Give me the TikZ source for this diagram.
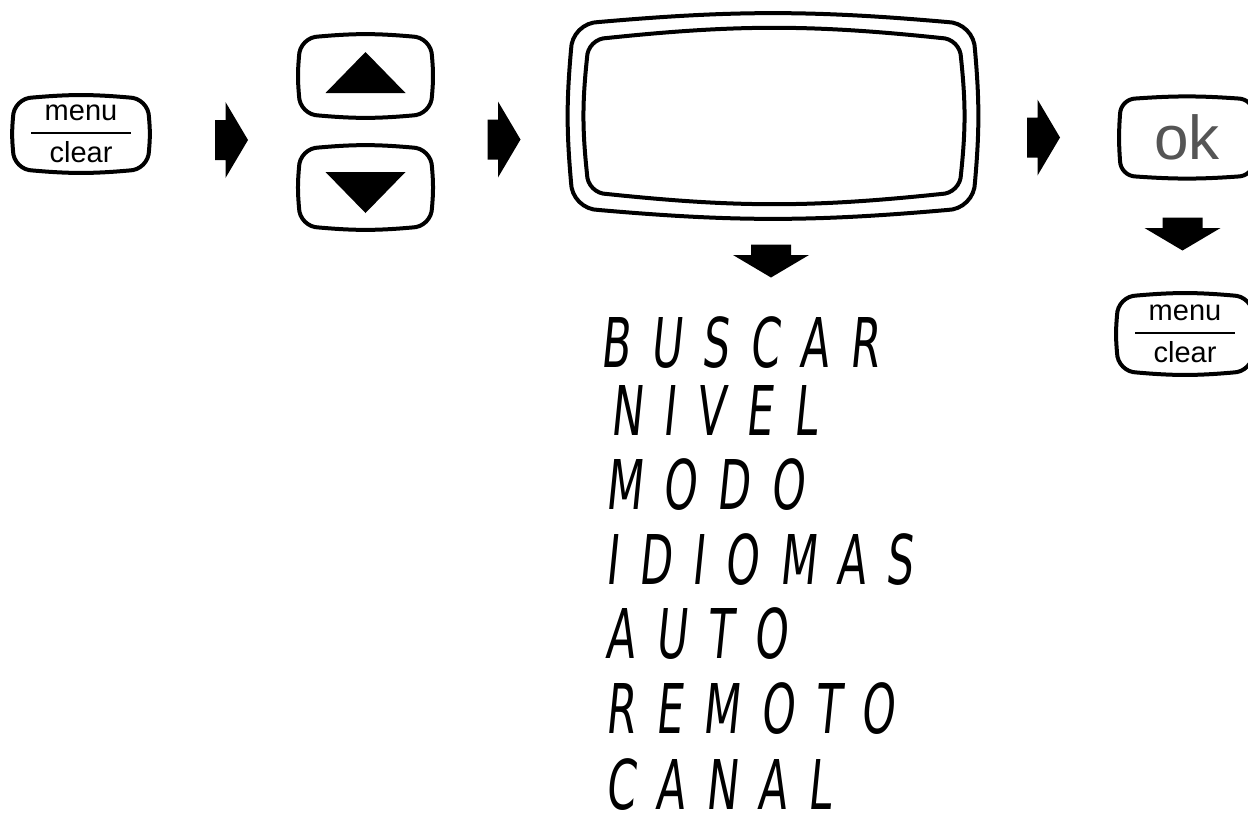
\documentclass[tikz,border=0pt]{standalone}
\usepackage{amsmath}
\usepackage{fontspec}
\setmainfont{Liberation Sans}
\newfontfamily\lcdfont[FakeStretch=0.62, FakeSlant=0.1, LetterSpace=30]{DejaVu Sans}
\usepackage{tikz}
\usetikzlibrary{calc}
\definecolor{okgray}{HTML}{555555}

\begin{document}
\begin{tikzpicture}[x=0.5pt, y=-0.5pt,
    key/.style={inner sep=0pt, outer sep=0pt},
    keyline/.style={line width=2pt, line join=round},
    menutext/.style={font=\fontsize{14.5}{16}\selectfont},
    lcd/.style={anchor=base west, inner sep=0pt, font=\lcdfont\fontsize{34.3}{36}\selectfont},
    blockarrow/.pic={\fill (-16.5,-20) -- (-6,-20) -- (-6,-38) -- (16.5,0) -- (-6,38) -- (-6,20) -- (-16.5,20) -- cycle;}]
    \useasboundingbox (0,0) rectangle (1248,814);
    % keys and display
    \node[key, minimum width=68pt, minimum height=36.5pt, menutext] (mc) at (81,134) {$\genfrac{}{}{1.2pt}{0}{\makebox[50pt]{menu}}{\text{clear}}$};
    \node[key, minimum width=66.5pt, minimum height=39.5pt] (up) at (365.5,76) {};
    \node[key, minimum width=66.5pt, minimum height=40pt] (dn) at (365.5,187.5) {};
    \node[key, minimum width=202pt, minimum height=94pt] (disp) at (773,116) {};
    \node[key, minimum width=187pt, minimum height=78pt] (scr) at (774,116) {};
    \node[key, minimum width=67pt, minimum height=39pt, text=okgray, font=\fontsize{31}{31}\selectfont] (ok) at (1187,137.5) {ok};
    \node[key, minimum width=68pt, minimum height=38.5pt, menutext] (mc2) at (1185,334) {$\genfrac{}{}{1.2pt}{0}{\makebox[50pt]{menu}}{\text{clear}}$};
    % outlines
    \foreach \n/\r/\b in {mc/20/5, up/20/5, dn/20/5, ok/16/4, mc2/20/5, disp/28/5, scr/20/6}
        \draw[keyline] ($(\n.north west)+(0,\r)$) .. controls ($(\n.north west)+(0,0.45*\r)$) and ($(\n.north west)+(0.45*\r,0)$) .. ($(\n.north west)+(\r,0)$)
            to[bend left=\b] ($(\n.north east)+(-\r,0)$) .. controls ($(\n.north east)+(-0.45*\r,0)$) and ($(\n.north east)+(0,0.45*\r)$) .. ($(\n.north east)+(0,\r)$)
            to[bend left=\b] ($(\n.south east)+(0,-\r)$) .. controls ($(\n.south east)+(0,-0.45*\r)$) and ($(\n.south east)+(-0.45*\r,0)$) .. ($(\n.south east)+(-\r,0)$)
            to[bend left=\b] ($(\n.south west)+(\r,0)$) .. controls ($(\n.south west)+(0.45*\r,0)$) and ($(\n.south west)+(0,-0.45*\r)$) .. ($(\n.south west)+(0,-\r)$)
            to[bend left=\b] ($(\n.north west)+(0,\r)$) -- cycle;
    \fill ($(up.center)+(0,-24)$) -- ($(up.center)+(40,17)$) -- ($(up.center)+(-40,17)$) -- cycle;
    \fill ($(dn.center)+(0,25.5)$) -- ($(dn.center)+(40,-15.5)$) -- ($(dn.center)+(-40,-15.5)$) -- cycle;
    % block arrows
    \pic at (231.5,140) {blockarrow};
    \pic at (504,139.5) {blockarrow};
    \pic at (1043.5,137.5) {blockarrow};
    \pic[rotate=-90] at (771,261) {blockarrow};
    \pic[rotate=-90] at (1182.5,234) {blockarrow};
    % menu items
    \node[lcd] (buscar) at (600,367) {BUSCAR};
    \node[lcd] (nivel) at (610,435) {NIVEL};
    \node[lcd] (modo) at (605,509) {MODO};
    \node[lcd] (idiomas) at (605,584) {IDIOMAS};
    \node[lcd] (auto) at (605,658) {AUTO};
    \node[lcd] (remoto) at (605,733) {REMOTO};
    \node[lcd] (canal) at (605,809) {CANAL};
\end{tikzpicture}
\end{document}
